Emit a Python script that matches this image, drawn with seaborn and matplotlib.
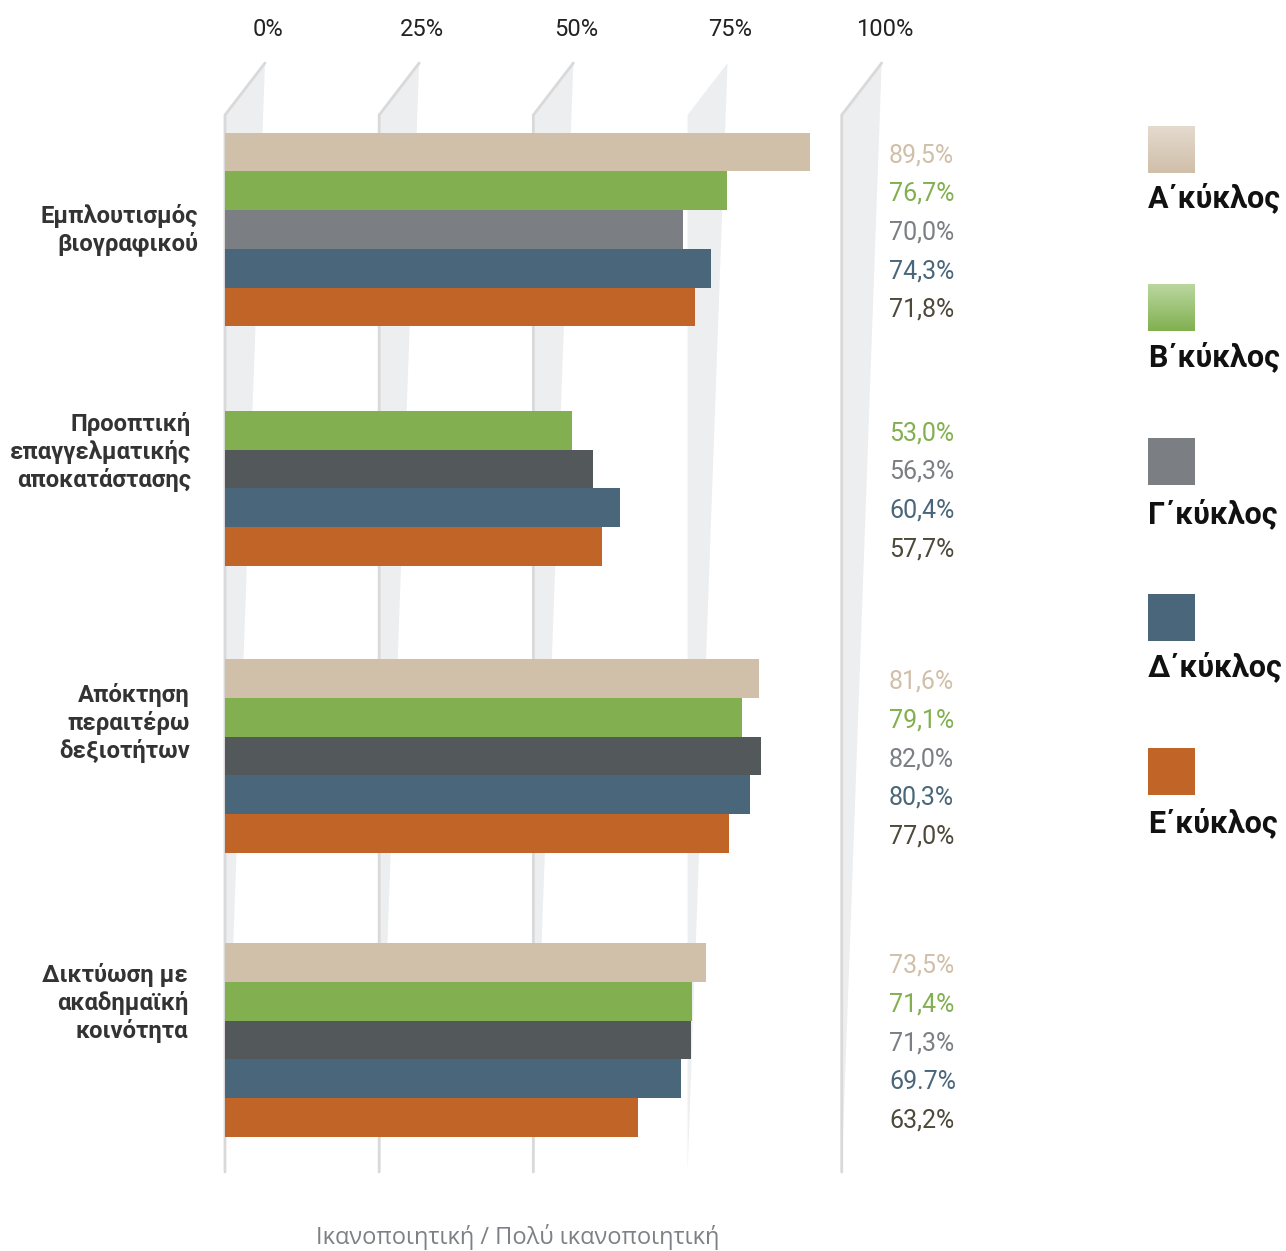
import numpy as np
import pandas as pd
import matplotlib
matplotlib.use("Agg")
import matplotlib.pyplot as plt
import seaborn as sns
from matplotlib.patches import Polygon, Rectangle
from matplotlib.colors import to_rgb

# ---- data ----
groups = [
    "Εμπλουτισμός\nβιογραφικού",
    "Προοπτική\nεπαγγελματικής\nαποκατάστασης",
    "Απόκτηση\nπεραιτέρω\nδεξιοτήτων",
    "Δικτύωση με\nακαδημαϊκή\nκοινότητα",
]
cycles = ["Α΄κύκλος", "Β΄κύκλος", "Γ΄κύκλος", "Δ΄κύκλος", "Ε΄κύκλος"]

a_cycle = [89.5, None, 81.6, 73.5]
b_cycle = [76.7, 53.0, 79.1, 71.4]
c_cycle = [70.0, 56.3, 82.0, 71.3]
d_cycle = [74.3, 60.4, 80.3, 69.7]
e_cycle = [71.8, 57.7, 77.0, 63.2]

a_text = ["89,5%", None, "81,6%", "73,5%"]
b_text = ["76,7%", "53,0%", "79,1%", "71,4%"]
c_text = ["70,0%", "56,3%", "82,0%", "71,3%"]
d_text = ["74,3%", "60,4%", "80,3%", "69.7%"]
e_text = ["71,8%", "57,7%", "77,0%", "63,2%"]

ticks = [0, 25, 50, 75, 100]
tick_labels = ["0%", "25%", "50%", "75%", "100%"]
x_title = "Ικανοποιητική / Πολύ ικανοποιητική"

# ---- layout / style ----
W, H = 1286, 1251
group_pos = [229.5, 469, 756, 1040]      # vertical centre of each group (px)
label_pos = [230, 452, 723, 1003]        # vertical centre of category labels (px)
label_right = [198, 191, 190, 188]       # right edge of category labels (px)
bar_colors = ["#d0bfa9", "#82b050", "#53585b", "#4a667a", "#c06428"]
text_colors = ["#d0bfa9", "#82b050", "#7b7f83", "#4a667a", "#4d4a3c"]
legend_colors = ["#d0bfa9", "#82b050", "#7b7f83", "#4a667a", "#c06428"]
legend_top = ["#e4dace", "#bad79f", None, None, None]

sns.set_theme(style="white")
plt.rcParams["font.family"] = ["Roboto", "DejaVu Sans"]

rows = []
series = [a_cycle, b_cycle, c_cycle, d_cycle, e_cycle]
texts = [a_text, b_text, c_text, d_text, e_text]
for i, g in enumerate(groups):
    for j, c in enumerate(cycles):
        if series[j][i] is not None:
            rows.append({"group": g, "pos": group_pos[i], "cycle": c,
                         "value": series[j][i], "text": texts[j][i]})
df = pd.DataFrame(rows)

fig = plt.figure(figsize=(W / 100, H / 100), dpi=100)
ax = fig.add_axes([225 / W, (H - 1172) / H, 654 / W, (1172 - 63) / H])

sns.barplot(data=df, x="value", y="pos", hue="cycle", hue_order=cycles,
            palette=dict(zip(cycles, bar_colors)), orient="y", native_scale=True,
            width=0.808, saturation=1, linewidth=0, errorbar=None,
            legend=False, ax=ax)
ax.set_xlim(0, 100)
ax.set_ylim(1172, 63)
ax.axis("off")

bars = list(ax.patches)

# first group's Γ bar is drawn in a lighter grey
for p in bars:
    if abs(p.get_y() + p.get_height() / 2 - group_pos[0]) < 1:
        p.set_facecolor("#7b7f83")

# slanted "perspective" gridlines
px = 6.54  # pixels per percent
for t in ticks:
    xb = t * 0.943
    xt = xb + 40 / px
    ax.add_patch(Polygon([(xb, 115), (xt, 63), (xb, 1172)], closed=True,
                         facecolor="#eceef0", edgecolor="none",
                         zorder=-2, clip_on=False))
    if t != 75:
        ax.plot([xt, xb, xb], [63, 115, 1172], color="#d9d9d9", lw=2,
                zorder=-1, clip_on=False, solid_joinstyle="miter")

# overlay axes in pixel coordinates for texts and legend
ov = fig.add_axes([0, 0, 1, 1], facecolor="none")

for t, lab in zip(ticks, tick_labels):
    xt_px = 225 + (t * 0.943) * px + 40
    ov.text(xt_px + 3, 30, lab, ha="center", va="center", fontsize=17,
            color="#222222")

for g, y, xr in zip(groups, label_pos, label_right):
    ov.text(xr, y, g, ha="right", va="center", fontsize=17.2,
            fontweight="bold", color="#333333", linespacing=1.22)

# value labels next to the bars
for p in bars:
    yc = p.get_y() + p.get_height() / 2
    val = p.get_width()
    hit = df[np.abs(df["value"] - val) < 1e-6].iloc[0]
    j = cycles.index(hit["cycle"])
    ov.text(889, yc + 3, hit["text"], ha="left", va="center", fontsize=18,
            color=text_colors[j])

# legend
sq_top = [126, 284, 438, 594, 748]
lab_y = [198, 357, 514, 667, 823]
for c, col, top, st, ly in zip(cycles, legend_colors, legend_top, sq_top, lab_y):
    if top is None:
        ov.add_patch(Rectangle((1148, st), 47, 47, facecolor=col,
                               edgecolor="none"))
    else:
        grad = np.linspace(0, 1, 50)[:, None, None]
        img = (1 - grad) * np.array(to_rgb(top)) + grad * np.array(to_rgb(col))
        img = np.repeat(img, 2, axis=1)
        ov.imshow(img, extent=(1148, 1195, st + 47, st), aspect="auto",
                  interpolation="bilinear", zorder=2)
    ov.text(1148, ly, c, ha="left", va="center", fontsize=22,
            fontweight="bold", color="#111111")

ov.text(518, 1237, x_title, ha="center", va="center", fontsize=17,
        color="#7d8185", family=["Open Sans", "DejaVu Sans"])

ov.set_xlim(0, W)
ov.set_ylim(H, 0)
ov.axis("off")

fig.savefig("out.png", dpi=100)
